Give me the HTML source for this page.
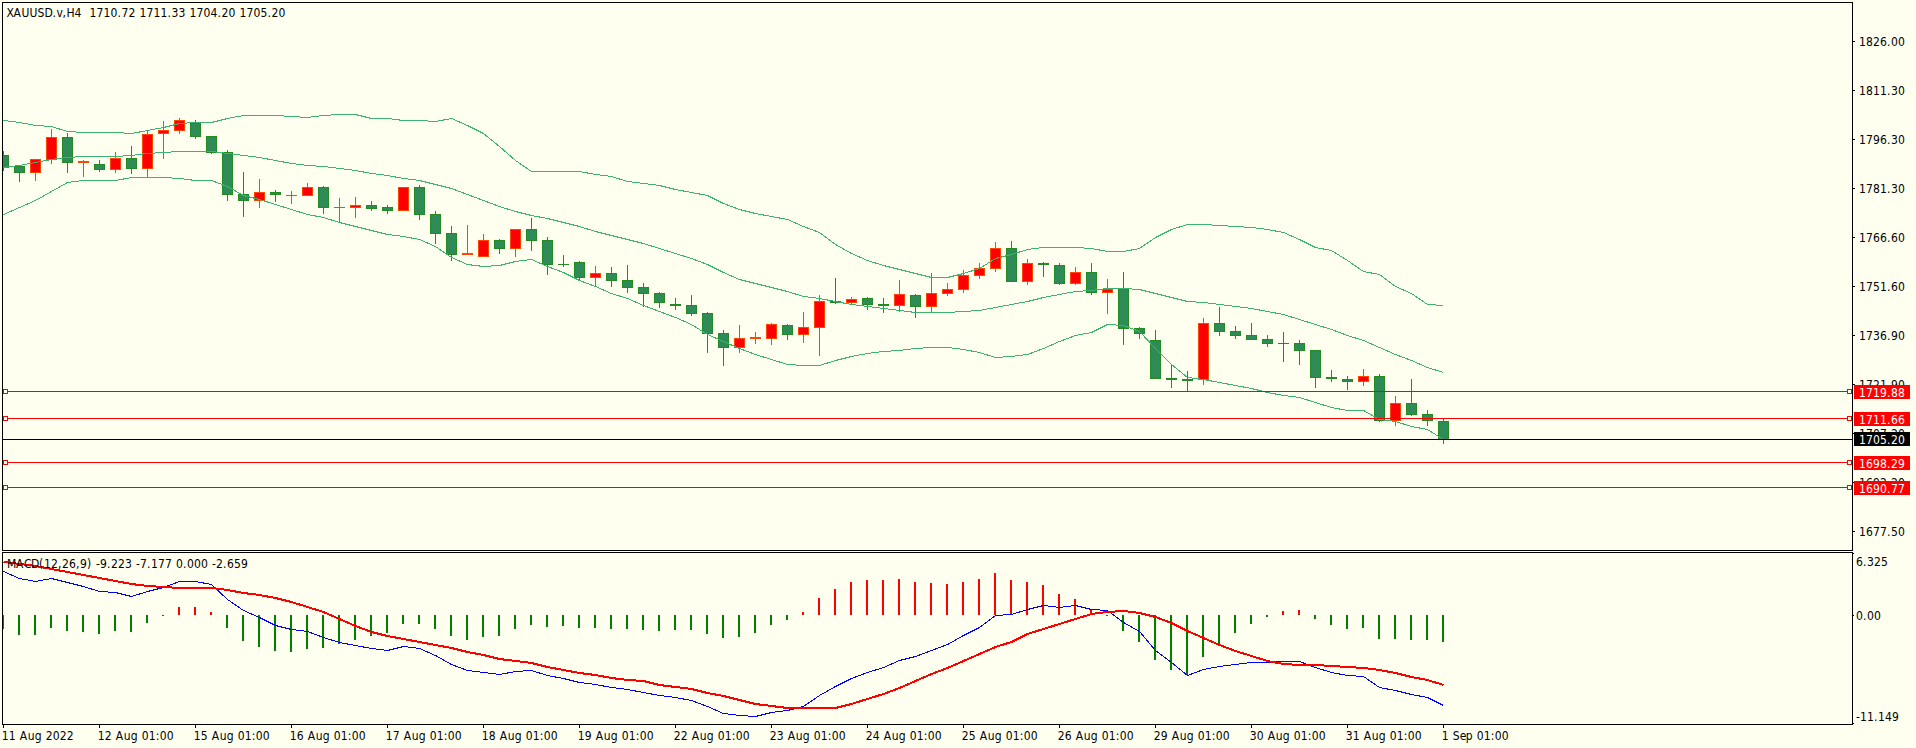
<!DOCTYPE html>
<html><head><meta charset="utf-8"><title>XAUUSD.v,H4</title>
<style>
html,body{margin:0;padding:0;background:#FFFFF0;overflow:hidden}
svg{display:block;position:absolute;left:0;top:0}
text{font-family:"DejaVu Sans Condensed","Liberation Sans",sans-serif;font-size:12px;white-space:pre}
</style></head><body>
<svg width="1916" height="748" viewBox="0 0 1916 748" shape-rendering="crispEdges">
<defs>
<clipPath id="cm"><rect x="3" y="3" width="1849" height="547"/></clipPath>
<clipPath id="cs"><rect x="3" y="553" width="1849" height="171"/></clipPath>
</defs>
<rect x="0" y="0" width="1916" height="748" fill="#FFFFF0"/>
<g clip-path="url(#cm)">
<rect x="3" y="151" width="1" height="20" fill="#228B22"/>
<rect x="-2" y="155" width="11" height="13" fill="#228B22"/>
<rect x="-1" y="156" width="9" height="11" fill="#2E8B57"/>
<rect x="19" y="166" width="1" height="16" fill="#228B22"/>
<rect x="14" y="166" width="11" height="7" fill="#228B22"/>
<rect x="15" y="167" width="9" height="5" fill="#2E8B57"/>
<rect x="35" y="159" width="1" height="22" fill="#FF4500"/>
<rect x="30" y="159" width="11" height="14" fill="#FF4500"/>
<rect x="31" y="160" width="9" height="12" fill="#FF0000"/>
<rect x="51" y="129" width="1" height="35" fill="#FF4500"/>
<rect x="46" y="137" width="11" height="23" fill="#FF4500"/>
<rect x="47" y="138" width="9" height="21" fill="#FF0000"/>
<rect x="67" y="133" width="1" height="40" fill="#228B22"/>
<rect x="62" y="137" width="11" height="26" fill="#228B22"/>
<rect x="63" y="138" width="9" height="24" fill="#2E8B57"/>
<rect x="83" y="160" width="1" height="17" fill="#FF4500"/>
<rect x="78" y="161" width="11" height="2" fill="#FF4500"/>
<rect x="99" y="160" width="1" height="12" fill="#228B22"/>
<rect x="94" y="164" width="11" height="6" fill="#228B22"/>
<rect x="95" y="165" width="9" height="4" fill="#2E8B57"/>
<rect x="115" y="152" width="1" height="21" fill="#FF4500"/>
<rect x="110" y="158" width="11" height="12" fill="#FF4500"/>
<rect x="111" y="159" width="9" height="10" fill="#FF0000"/>
<rect x="131" y="146" width="1" height="28" fill="#228B22"/>
<rect x="126" y="158" width="11" height="11" fill="#228B22"/>
<rect x="127" y="159" width="9" height="9" fill="#2E8B57"/>
<rect x="147" y="131" width="1" height="46" fill="#FF4500"/>
<rect x="142" y="134" width="11" height="35" fill="#FF4500"/>
<rect x="143" y="135" width="9" height="33" fill="#FF0000"/>
<rect x="163" y="121" width="1" height="38" fill="#FF4500"/>
<rect x="158" y="130" width="11" height="4" fill="#FF4500"/>
<rect x="159" y="131" width="9" height="2" fill="#FF0000"/>
<rect x="179" y="118" width="1" height="16" fill="#FF4500"/>
<rect x="174" y="120" width="11" height="11" fill="#FF4500"/>
<rect x="175" y="121" width="9" height="9" fill="#FF0000"/>
<rect x="195" y="120" width="1" height="19" fill="#228B22"/>
<rect x="190" y="123" width="11" height="14" fill="#228B22"/>
<rect x="191" y="124" width="9" height="12" fill="#2E8B57"/>
<rect x="211" y="136" width="1" height="18" fill="#228B22"/>
<rect x="206" y="136" width="11" height="17" fill="#228B22"/>
<rect x="207" y="137" width="9" height="15" fill="#2E8B57"/>
<rect x="227" y="150" width="1" height="51" fill="#228B22"/>
<rect x="222" y="152" width="11" height="43" fill="#228B22"/>
<rect x="223" y="153" width="9" height="41" fill="#2E8B57"/>
<rect x="243" y="172" width="1" height="45" fill="#228B22"/>
<rect x="238" y="194" width="11" height="7" fill="#228B22"/>
<rect x="239" y="195" width="9" height="5" fill="#2E8B57"/>
<rect x="259" y="179" width="1" height="29" fill="#FF4500"/>
<rect x="254" y="192" width="11" height="9" fill="#FF4500"/>
<rect x="255" y="193" width="9" height="7" fill="#FF0000"/>
<rect x="275" y="190" width="1" height="12" fill="#228B22"/>
<rect x="270" y="192" width="11" height="3" fill="#228B22"/>
<rect x="271" y="193" width="9" height="1" fill="#2E8B57"/>
<rect x="291" y="191" width="1" height="13" fill="#FF4500"/>
<rect x="286" y="195" width="11" height="1" fill="#FF4500"/>
<rect x="307" y="183" width="1" height="13" fill="#FF4500"/>
<rect x="302" y="187" width="11" height="9" fill="#FF4500"/>
<rect x="303" y="188" width="9" height="7" fill="#FF0000"/>
<rect x="323" y="186" width="1" height="28" fill="#228B22"/>
<rect x="318" y="187" width="11" height="21" fill="#228B22"/>
<rect x="319" y="188" width="9" height="19" fill="#2E8B57"/>
<rect x="339" y="198" width="1" height="24" fill="#FF4500"/>
<rect x="334" y="207" width="11" height="1" fill="#FF4500"/>
<rect x="355" y="197" width="1" height="21" fill="#FF4500"/>
<rect x="350" y="205" width="11" height="3" fill="#FF4500"/>
<rect x="351" y="206" width="9" height="1" fill="#FF0000"/>
<rect x="371" y="201" width="1" height="10" fill="#228B22"/>
<rect x="366" y="205" width="11" height="4" fill="#228B22"/>
<rect x="367" y="206" width="9" height="2" fill="#2E8B57"/>
<rect x="387" y="205" width="1" height="9" fill="#228B22"/>
<rect x="382" y="207" width="11" height="4" fill="#228B22"/>
<rect x="383" y="208" width="9" height="2" fill="#2E8B57"/>
<rect x="403" y="187" width="1" height="24" fill="#FF4500"/>
<rect x="398" y="187" width="11" height="24" fill="#FF4500"/>
<rect x="399" y="188" width="9" height="22" fill="#FF0000"/>
<rect x="419" y="185" width="1" height="35" fill="#228B22"/>
<rect x="414" y="187" width="11" height="28" fill="#228B22"/>
<rect x="415" y="188" width="9" height="26" fill="#2E8B57"/>
<rect x="435" y="211" width="1" height="33" fill="#228B22"/>
<rect x="430" y="214" width="11" height="20" fill="#228B22"/>
<rect x="431" y="215" width="9" height="18" fill="#2E8B57"/>
<rect x="451" y="226" width="1" height="35" fill="#228B22"/>
<rect x="446" y="233" width="11" height="22" fill="#228B22"/>
<rect x="447" y="234" width="9" height="20" fill="#2E8B57"/>
<rect x="467" y="225" width="1" height="30" fill="#FF4500"/>
<rect x="462" y="253" width="11" height="2" fill="#FF4500"/>
<rect x="483" y="234" width="1" height="23" fill="#FF4500"/>
<rect x="478" y="240" width="11" height="17" fill="#FF4500"/>
<rect x="479" y="241" width="9" height="15" fill="#FF0000"/>
<rect x="499" y="239" width="1" height="15" fill="#228B22"/>
<rect x="494" y="240" width="11" height="9" fill="#228B22"/>
<rect x="495" y="241" width="9" height="7" fill="#2E8B57"/>
<rect x="515" y="229" width="1" height="28" fill="#FF4500"/>
<rect x="510" y="229" width="11" height="20" fill="#FF4500"/>
<rect x="511" y="230" width="9" height="18" fill="#FF0000"/>
<rect x="531" y="218" width="1" height="33" fill="#228B22"/>
<rect x="526" y="229" width="11" height="12" fill="#228B22"/>
<rect x="527" y="230" width="9" height="10" fill="#2E8B57"/>
<rect x="547" y="237" width="1" height="38" fill="#228B22"/>
<rect x="542" y="240" width="11" height="25" fill="#228B22"/>
<rect x="543" y="241" width="9" height="23" fill="#2E8B57"/>
<rect x="563" y="255" width="1" height="12" fill="#228B22"/>
<rect x="558" y="264" width="11" height="1" fill="#228B22"/>
<rect x="579" y="261" width="1" height="20" fill="#228B22"/>
<rect x="574" y="262" width="11" height="16" fill="#228B22"/>
<rect x="575" y="263" width="9" height="14" fill="#2E8B57"/>
<rect x="595" y="266" width="1" height="20" fill="#FF4500"/>
<rect x="590" y="273" width="11" height="5" fill="#FF4500"/>
<rect x="591" y="274" width="9" height="3" fill="#FF0000"/>
<rect x="611" y="267" width="1" height="20" fill="#228B22"/>
<rect x="606" y="273" width="11" height="8" fill="#228B22"/>
<rect x="607" y="274" width="9" height="6" fill="#2E8B57"/>
<rect x="627" y="265" width="1" height="28" fill="#228B22"/>
<rect x="622" y="280" width="11" height="8" fill="#228B22"/>
<rect x="623" y="281" width="9" height="6" fill="#2E8B57"/>
<rect x="643" y="283" width="1" height="24" fill="#228B22"/>
<rect x="638" y="287" width="11" height="7" fill="#228B22"/>
<rect x="639" y="288" width="9" height="5" fill="#2E8B57"/>
<rect x="659" y="292" width="1" height="16" fill="#228B22"/>
<rect x="654" y="293" width="11" height="10" fill="#228B22"/>
<rect x="655" y="294" width="9" height="8" fill="#2E8B57"/>
<rect x="675" y="298" width="1" height="12" fill="#228B22"/>
<rect x="670" y="304" width="11" height="2" fill="#228B22"/>
<rect x="691" y="295" width="1" height="21" fill="#228B22"/>
<rect x="686" y="305" width="11" height="9" fill="#228B22"/>
<rect x="687" y="306" width="9" height="7" fill="#2E8B57"/>
<rect x="707" y="312" width="1" height="41" fill="#228B22"/>
<rect x="702" y="313" width="11" height="21" fill="#228B22"/>
<rect x="703" y="314" width="9" height="19" fill="#2E8B57"/>
<rect x="723" y="330" width="1" height="36" fill="#228B22"/>
<rect x="718" y="333" width="11" height="15" fill="#228B22"/>
<rect x="719" y="334" width="9" height="13" fill="#2E8B57"/>
<rect x="739" y="325" width="1" height="28" fill="#FF4500"/>
<rect x="734" y="338" width="11" height="10" fill="#FF4500"/>
<rect x="735" y="339" width="9" height="8" fill="#FF0000"/>
<rect x="755" y="332" width="1" height="12" fill="#FF4500"/>
<rect x="750" y="337" width="11" height="2" fill="#FF4500"/>
<rect x="771" y="323" width="1" height="22" fill="#FF4500"/>
<rect x="766" y="324" width="11" height="15" fill="#FF4500"/>
<rect x="767" y="325" width="9" height="13" fill="#FF0000"/>
<rect x="787" y="324" width="1" height="16" fill="#228B22"/>
<rect x="782" y="325" width="11" height="10" fill="#228B22"/>
<rect x="783" y="326" width="9" height="8" fill="#2E8B57"/>
<rect x="803" y="312" width="1" height="31" fill="#FF4500"/>
<rect x="798" y="327" width="11" height="8" fill="#FF4500"/>
<rect x="799" y="328" width="9" height="6" fill="#FF0000"/>
<rect x="819" y="295" width="1" height="61" fill="#FF4500"/>
<rect x="814" y="301" width="11" height="27" fill="#FF4500"/>
<rect x="815" y="302" width="9" height="25" fill="#FF0000"/>
<rect x="835" y="278" width="1" height="26" fill="#228B22"/>
<rect x="830" y="301" width="11" height="2" fill="#228B22"/>
<rect x="851" y="297" width="1" height="8" fill="#FF4500"/>
<rect x="846" y="299" width="11" height="4" fill="#FF4500"/>
<rect x="847" y="300" width="9" height="2" fill="#FF0000"/>
<rect x="867" y="297" width="1" height="13" fill="#228B22"/>
<rect x="862" y="298" width="11" height="7" fill="#228B22"/>
<rect x="863" y="299" width="9" height="5" fill="#2E8B57"/>
<rect x="883" y="298" width="1" height="15" fill="#228B22"/>
<rect x="878" y="304" width="11" height="2" fill="#228B22"/>
<rect x="899" y="280" width="1" height="32" fill="#FF4500"/>
<rect x="894" y="294" width="11" height="12" fill="#FF4500"/>
<rect x="895" y="295" width="9" height="10" fill="#FF0000"/>
<rect x="915" y="294" width="1" height="24" fill="#228B22"/>
<rect x="910" y="295" width="11" height="12" fill="#228B22"/>
<rect x="911" y="296" width="9" height="10" fill="#2E8B57"/>
<rect x="931" y="273" width="1" height="39" fill="#FF4500"/>
<rect x="926" y="293" width="11" height="14" fill="#FF4500"/>
<rect x="927" y="294" width="9" height="12" fill="#FF0000"/>
<rect x="947" y="283" width="1" height="13" fill="#FF4500"/>
<rect x="942" y="289" width="11" height="5" fill="#FF4500"/>
<rect x="943" y="290" width="9" height="3" fill="#FF0000"/>
<rect x="963" y="270" width="1" height="23" fill="#FF4500"/>
<rect x="958" y="275" width="11" height="15" fill="#FF4500"/>
<rect x="959" y="276" width="9" height="13" fill="#FF0000"/>
<rect x="979" y="263" width="1" height="16" fill="#FF4500"/>
<rect x="974" y="268" width="11" height="8" fill="#FF4500"/>
<rect x="975" y="269" width="9" height="6" fill="#FF0000"/>
<rect x="995" y="242" width="1" height="30" fill="#FF4500"/>
<rect x="990" y="248" width="11" height="21" fill="#FF4500"/>
<rect x="991" y="249" width="9" height="19" fill="#FF0000"/>
<rect x="1011" y="241" width="1" height="41" fill="#228B22"/>
<rect x="1006" y="248" width="11" height="34" fill="#228B22"/>
<rect x="1007" y="249" width="9" height="32" fill="#2E8B57"/>
<rect x="1027" y="259" width="1" height="26" fill="#FF4500"/>
<rect x="1022" y="263" width="11" height="19" fill="#FF4500"/>
<rect x="1023" y="264" width="9" height="17" fill="#FF0000"/>
<rect x="1043" y="262" width="1" height="15" fill="#228B22"/>
<rect x="1038" y="263" width="11" height="2" fill="#228B22"/>
<rect x="1059" y="263" width="1" height="22" fill="#228B22"/>
<rect x="1054" y="265" width="11" height="19" fill="#228B22"/>
<rect x="1055" y="266" width="9" height="17" fill="#2E8B57"/>
<rect x="1075" y="267" width="1" height="18" fill="#FF4500"/>
<rect x="1070" y="272" width="11" height="12" fill="#FF4500"/>
<rect x="1071" y="273" width="9" height="10" fill="#FF0000"/>
<rect x="1091" y="263" width="1" height="32" fill="#228B22"/>
<rect x="1086" y="272" width="11" height="21" fill="#228B22"/>
<rect x="1087" y="273" width="9" height="19" fill="#2E8B57"/>
<rect x="1107" y="279" width="1" height="35" fill="#FF4500"/>
<rect x="1102" y="289" width="11" height="4" fill="#FF4500"/>
<rect x="1103" y="290" width="9" height="2" fill="#FF0000"/>
<rect x="1123" y="272" width="1" height="73" fill="#228B22"/>
<rect x="1118" y="288" width="11" height="41" fill="#228B22"/>
<rect x="1119" y="289" width="9" height="39" fill="#2E8B57"/>
<rect x="1139" y="327" width="1" height="12" fill="#228B22"/>
<rect x="1134" y="328" width="11" height="6" fill="#228B22"/>
<rect x="1135" y="329" width="9" height="4" fill="#2E8B57"/>
<rect x="1155" y="330" width="1" height="49" fill="#228B22"/>
<rect x="1150" y="340" width="11" height="39" fill="#228B22"/>
<rect x="1151" y="341" width="9" height="37" fill="#2E8B57"/>
<rect x="1171" y="364" width="1" height="24" fill="#228B22"/>
<rect x="1166" y="378" width="11" height="2" fill="#228B22"/>
<rect x="1187" y="371" width="1" height="21" fill="#228B22"/>
<rect x="1182" y="379" width="11" height="2" fill="#228B22"/>
<rect x="1203" y="318" width="1" height="67" fill="#FF4500"/>
<rect x="1198" y="323" width="11" height="57" fill="#FF4500"/>
<rect x="1199" y="324" width="9" height="55" fill="#FF0000"/>
<rect x="1219" y="307" width="1" height="29" fill="#228B22"/>
<rect x="1214" y="323" width="11" height="9" fill="#228B22"/>
<rect x="1215" y="324" width="9" height="7" fill="#2E8B57"/>
<rect x="1235" y="326" width="1" height="13" fill="#228B22"/>
<rect x="1230" y="331" width="11" height="5" fill="#228B22"/>
<rect x="1231" y="332" width="9" height="3" fill="#2E8B57"/>
<rect x="1251" y="323" width="1" height="17" fill="#228B22"/>
<rect x="1246" y="335" width="11" height="5" fill="#228B22"/>
<rect x="1247" y="336" width="9" height="3" fill="#2E8B57"/>
<rect x="1267" y="335" width="1" height="12" fill="#228B22"/>
<rect x="1262" y="339" width="11" height="5" fill="#228B22"/>
<rect x="1263" y="340" width="9" height="3" fill="#2E8B57"/>
<rect x="1283" y="332" width="1" height="30" fill="#228B22"/>
<rect x="1278" y="343" width="11" height="1" fill="#228B22"/>
<rect x="1299" y="340" width="1" height="25" fill="#228B22"/>
<rect x="1294" y="343" width="11" height="8" fill="#228B22"/>
<rect x="1295" y="344" width="9" height="6" fill="#2E8B57"/>
<rect x="1315" y="350" width="1" height="38" fill="#228B22"/>
<rect x="1310" y="350" width="11" height="28" fill="#228B22"/>
<rect x="1311" y="351" width="9" height="26" fill="#2E8B57"/>
<rect x="1331" y="370" width="1" height="12" fill="#228B22"/>
<rect x="1326" y="377" width="11" height="2" fill="#228B22"/>
<rect x="1347" y="376" width="1" height="14" fill="#228B22"/>
<rect x="1342" y="379" width="11" height="3" fill="#228B22"/>
<rect x="1343" y="380" width="9" height="1" fill="#2E8B57"/>
<rect x="1363" y="369" width="1" height="17" fill="#FF4500"/>
<rect x="1358" y="376" width="11" height="6" fill="#FF4500"/>
<rect x="1359" y="377" width="9" height="4" fill="#FF0000"/>
<rect x="1379" y="374" width="1" height="48" fill="#228B22"/>
<rect x="1374" y="376" width="11" height="45" fill="#228B22"/>
<rect x="1375" y="377" width="9" height="43" fill="#2E8B57"/>
<rect x="1395" y="396" width="1" height="30" fill="#FF4500"/>
<rect x="1390" y="403" width="11" height="18" fill="#FF4500"/>
<rect x="1391" y="404" width="9" height="16" fill="#FF0000"/>
<rect x="1411" y="379" width="1" height="37" fill="#228B22"/>
<rect x="1406" y="403" width="11" height="12" fill="#228B22"/>
<rect x="1407" y="404" width="9" height="10" fill="#2E8B57"/>
<rect x="1427" y="410" width="1" height="16" fill="#228B22"/>
<rect x="1422" y="414" width="11" height="7" fill="#228B22"/>
<rect x="1423" y="415" width="9" height="5" fill="#2E8B57"/>
<rect x="1443" y="419" width="1" height="25" fill="#228B22"/>
<rect x="1438" y="421" width="11" height="19" fill="#228B22"/>
<rect x="1439" y="422" width="9" height="17" fill="#2E8B57"/>
<polyline points="3.5,120.5 19.5,122.5 35.5,125.5 51.5,126.5 67.5,131.5 83.5,132.5 99.5,132.5 115.5,132.5 131.5,133.5 147.5,130.5 163.5,127.5 179.5,123.5 195.5,122.5 211.5,122.5 227.5,118.5 243.5,115.5 259.5,115.5 275.5,115.5 291.5,116.5 307.5,117.5 323.5,115.5 339.5,114.5 355.5,114.5 371.5,118.5 387.5,118.5 403.5,120.5 419.5,120.5 435.5,121.5 451.5,118.5 467.5,125.5 483.5,133.5 499.5,146.5 515.5,160.5 531.5,171.5 547.5,171.5 563.5,171.5 579.5,171.5 595.5,174.5 611.5,176.5 627.5,181.5 643.5,183.5 659.5,185.5 675.5,189.5 691.5,192.5 707.5,195.5 723.5,203.5 739.5,209.5 755.5,213.5 771.5,216.5 787.5,219.5 803.5,226.5 819.5,232.5 835.5,244.5 851.5,253.5 867.5,260.5 883.5,265.5 899.5,269.5 915.5,273.5 931.5,277.5 947.5,277.5 963.5,273.5 979.5,268.5 995.5,258.5 1011.5,254.5 1027.5,249.5 1043.5,247.5 1059.5,247.5 1075.5,247.5 1091.5,248.5 1107.5,251.5 1123.5,251.5 1139.5,248.5 1155.5,237.5 1171.5,229.5 1187.5,224.5 1203.5,224.5 1219.5,225.5 1235.5,226.5 1251.5,227.5 1267.5,229.5 1283.5,232.5 1299.5,239.5 1315.5,247.5 1331.5,250.5 1347.5,260.5 1363.5,271.5 1379.5,274.5 1395.5,286.5 1411.5,293.5 1427.5,304.5 1443.5,305.5" fill="none" stroke="#3CB371" stroke-width="1"/>
<polyline points="3.5,167.5 19.5,165.5 35.5,162.5 51.5,159.5 67.5,157.5 83.5,156.5 99.5,156.5 115.5,156.5 131.5,155.5 147.5,153.5 163.5,152.5 179.5,151.5 195.5,151.5 211.5,151.5 227.5,153.5 243.5,155.5 259.5,157.5 275.5,160.5 291.5,163.5 307.5,165.5 323.5,166.5 339.5,168.5 355.5,170.5 371.5,173.5 387.5,175.5 403.5,178.5 419.5,180.5 435.5,184.5 451.5,188.5 467.5,194.5 483.5,200.5 499.5,206.5 515.5,211.5 531.5,215.5 547.5,218.5 563.5,222.5 579.5,226.5 595.5,231.5 611.5,235.5 627.5,239.5 643.5,243.5 659.5,248.5 675.5,253.5 691.5,258.5 707.5,264.5 723.5,272.5 739.5,279.5 755.5,283.5 771.5,287.5 787.5,291.5 803.5,296.5 819.5,298.5 835.5,301.5 851.5,304.5 867.5,306.5 883.5,308.5 899.5,310.5 915.5,312.5 931.5,312.5 947.5,312.5 963.5,311.5 979.5,310.5 995.5,307.5 1011.5,304.5 1027.5,301.5 1043.5,297.5 1059.5,294.5 1075.5,291.5 1091.5,290.5 1107.5,288.5 1123.5,288.5 1139.5,289.5 1155.5,293.5 1171.5,297.5 1187.5,301.5 1203.5,302.5 1219.5,304.5 1235.5,306.5 1251.5,308.5 1267.5,311.5 1283.5,314.5 1299.5,319.5 1315.5,324.5 1331.5,329.5 1347.5,335.5 1363.5,340.5 1379.5,347.5 1395.5,354.5 1411.5,360.5 1427.5,367.5 1443.5,372.5" fill="none" stroke="#3CB371" stroke-width="1"/>
<polyline points="3.5,214.5 19.5,207.5 35.5,200.5 51.5,191.5 67.5,182.5 83.5,180.5 99.5,180.5 115.5,180.5 131.5,177.5 147.5,177.5 163.5,177.5 179.5,178.5 195.5,180.5 211.5,180.5 227.5,186.5 243.5,195.5 259.5,199.5 275.5,204.5 291.5,209.5 307.5,214.5 323.5,217.5 339.5,222.5 355.5,226.5 371.5,230.5 387.5,234.5 403.5,236.5 419.5,239.5 435.5,246.5 451.5,257.5 467.5,264.5 483.5,266.5 499.5,265.5 515.5,261.5 531.5,259.5 547.5,266.5 563.5,272.5 579.5,280.5 595.5,286.5 611.5,293.5 627.5,298.5 643.5,305.5 659.5,311.5 675.5,317.5 691.5,324.5 707.5,334.5 723.5,341.5 739.5,348.5 755.5,354.5 771.5,359.5 787.5,364.5 803.5,365.5 819.5,365.5 835.5,360.5 851.5,356.5 867.5,353.5 883.5,351.5 899.5,350.5 915.5,348.5 931.5,347.5 947.5,347.5 963.5,349.5 979.5,352.5 995.5,357.5 1011.5,356.5 1027.5,354.5 1043.5,348.5 1059.5,341.5 1075.5,335.5 1091.5,332.5 1107.5,324.5 1123.5,325.5 1139.5,331.5 1155.5,348.5 1171.5,364.5 1187.5,377.5 1203.5,379.5 1219.5,382.5 1235.5,385.5 1251.5,388.5 1267.5,392.5 1283.5,395.5 1299.5,397.5 1315.5,402.5 1331.5,407.5 1347.5,410.5 1363.5,410.5 1379.5,419.5 1395.5,421.5 1411.5,426.5 1427.5,429.5 1443.5,439.5" fill="none" stroke="#3CB371" stroke-width="1"/>
</g>
<rect x="8" y="391" width="1839" height="1" fill="#FF0000"/>
<rect x="3" y="389" width="5" height="5" fill="#FF0000"/>
<rect x="4" y="390" width="3" height="3" fill="#FFFFF0"/>
<rect x="1847" y="389" width="5" height="5" fill="#FF0000"/>
<rect x="1848" y="390" width="3" height="3" fill="#FFFFF0"/>
<rect x="8" y="418" width="1839" height="1" fill="#FF0000"/>
<rect x="3" y="416" width="5" height="5" fill="#FF0000"/>
<rect x="4" y="417" width="3" height="3" fill="#FFFFF0"/>
<rect x="1847" y="416" width="5" height="5" fill="#FF0000"/>
<rect x="1848" y="417" width="3" height="3" fill="#FFFFF0"/>
<rect x="8" y="462" width="1839" height="1" fill="#FF0000"/>
<rect x="3" y="460" width="5" height="5" fill="#FF0000"/>
<rect x="4" y="461" width="3" height="3" fill="#FFFFF0"/>
<rect x="1847" y="460" width="5" height="5" fill="#FF0000"/>
<rect x="1848" y="461" width="3" height="3" fill="#FFFFF0"/>
<rect x="8" y="487" width="1839" height="1" fill="#FF0000"/>
<rect x="3" y="485" width="5" height="5" fill="#FF0000"/>
<rect x="4" y="486" width="3" height="3" fill="#FFFFF0"/>
<rect x="1847" y="485" width="5" height="5" fill="#FF0000"/>
<rect x="1848" y="486" width="3" height="3" fill="#FFFFF0"/>
<rect x="3" y="439" width="1849" height="1" fill="#000"/>
<g clip-path="url(#cs)">
<rect x="2" y="615" width="2" height="14" fill="#008000"/>
<rect x="18" y="615" width="2" height="20" fill="#008000"/>
<rect x="34" y="615" width="2" height="20" fill="#008000"/>
<rect x="50" y="615" width="2" height="13" fill="#008000"/>
<rect x="66" y="615" width="2" height="16" fill="#008000"/>
<rect x="82" y="615" width="2" height="17" fill="#008000"/>
<rect x="98" y="615" width="2" height="19" fill="#008000"/>
<rect x="114" y="615" width="2" height="16" fill="#008000"/>
<rect x="130" y="615" width="2" height="17" fill="#008000"/>
<rect x="146" y="615" width="2" height="8" fill="#008000"/>
<rect x="162" y="615" width="2" height="1" fill="#FF0000"/>
<rect x="178" y="607" width="2" height="8" fill="#FF0000"/>
<rect x="194" y="607" width="2" height="8" fill="#FF0000"/>
<rect x="210" y="612" width="2" height="3" fill="#FF0000"/>
<rect x="226" y="615" width="2" height="13" fill="#008000"/>
<rect x="242" y="615" width="2" height="26" fill="#008000"/>
<rect x="258" y="615" width="2" height="32" fill="#008000"/>
<rect x="274" y="615" width="2" height="36" fill="#008000"/>
<rect x="290" y="615" width="2" height="37" fill="#008000"/>
<rect x="306" y="615" width="2" height="34" fill="#008000"/>
<rect x="322" y="615" width="2" height="33" fill="#008000"/>
<rect x="338" y="615" width="2" height="29" fill="#008000"/>
<rect x="354" y="615" width="2" height="25" fill="#008000"/>
<rect x="370" y="615" width="2" height="21" fill="#008000"/>
<rect x="386" y="615" width="2" height="18" fill="#008000"/>
<rect x="402" y="615" width="2" height="9" fill="#008000"/>
<rect x="418" y="615" width="2" height="9" fill="#008000"/>
<rect x="434" y="615" width="2" height="14" fill="#008000"/>
<rect x="450" y="615" width="2" height="21" fill="#008000"/>
<rect x="466" y="615" width="2" height="25" fill="#008000"/>
<rect x="482" y="615" width="2" height="22" fill="#008000"/>
<rect x="498" y="615" width="2" height="21" fill="#008000"/>
<rect x="514" y="615" width="2" height="14" fill="#008000"/>
<rect x="530" y="615" width="2" height="10" fill="#008000"/>
<rect x="546" y="615" width="2" height="12" fill="#008000"/>
<rect x="562" y="615" width="2" height="11" fill="#008000"/>
<rect x="578" y="615" width="2" height="13" fill="#008000"/>
<rect x="594" y="615" width="2" height="13" fill="#008000"/>
<rect x="610" y="615" width="2" height="14" fill="#008000"/>
<rect x="626" y="615" width="2" height="14" fill="#008000"/>
<rect x="642" y="615" width="2" height="15" fill="#008000"/>
<rect x="658" y="615" width="2" height="16" fill="#008000"/>
<rect x="674" y="615" width="2" height="15" fill="#008000"/>
<rect x="690" y="615" width="2" height="15" fill="#008000"/>
<rect x="706" y="615" width="2" height="19" fill="#008000"/>
<rect x="722" y="615" width="2" height="23" fill="#008000"/>
<rect x="738" y="615" width="2" height="22" fill="#008000"/>
<rect x="754" y="615" width="2" height="18" fill="#008000"/>
<rect x="770" y="615" width="2" height="10" fill="#008000"/>
<rect x="786" y="615" width="2" height="5" fill="#008000"/>
<rect x="802" y="612" width="2" height="3" fill="#FF0000"/>
<rect x="818" y="598" width="2" height="17" fill="#FF0000"/>
<rect x="834" y="589" width="2" height="26" fill="#FF0000"/>
<rect x="850" y="582" width="2" height="33" fill="#FF0000"/>
<rect x="866" y="580" width="2" height="35" fill="#FF0000"/>
<rect x="882" y="580" width="2" height="35" fill="#FF0000"/>
<rect x="898" y="579" width="2" height="36" fill="#FF0000"/>
<rect x="914" y="582" width="2" height="33" fill="#FF0000"/>
<rect x="930" y="583" width="2" height="32" fill="#FF0000"/>
<rect x="946" y="584" width="2" height="31" fill="#FF0000"/>
<rect x="962" y="582" width="2" height="33" fill="#FF0000"/>
<rect x="978" y="579" width="2" height="36" fill="#FF0000"/>
<rect x="994" y="573" width="2" height="42" fill="#FF0000"/>
<rect x="1010" y="580" width="2" height="35" fill="#FF0000"/>
<rect x="1026" y="582" width="2" height="33" fill="#FF0000"/>
<rect x="1042" y="585" width="2" height="30" fill="#FF0000"/>
<rect x="1058" y="594" width="2" height="21" fill="#FF0000"/>
<rect x="1074" y="599" width="2" height="16" fill="#FF0000"/>
<rect x="1090" y="609" width="2" height="6" fill="#FF0000"/>
<rect x="1106" y="615" width="2" height="1" fill="#008000"/>
<rect x="1122" y="615" width="2" height="16" fill="#008000"/>
<rect x="1138" y="615" width="2" height="27" fill="#008000"/>
<rect x="1154" y="615" width="2" height="45" fill="#008000"/>
<rect x="1170" y="615" width="2" height="55" fill="#008000"/>
<rect x="1186" y="615" width="2" height="60" fill="#008000"/>
<rect x="1202" y="615" width="2" height="42" fill="#008000"/>
<rect x="1218" y="615" width="2" height="29" fill="#008000"/>
<rect x="1234" y="615" width="2" height="18" fill="#008000"/>
<rect x="1250" y="615" width="2" height="9" fill="#008000"/>
<rect x="1266" y="615" width="2" height="2" fill="#008000"/>
<rect x="1282" y="611" width="2" height="4" fill="#FF0000"/>
<rect x="1298" y="610" width="2" height="5" fill="#FF0000"/>
<rect x="1314" y="615" width="2" height="4" fill="#008000"/>
<rect x="1330" y="615" width="2" height="10" fill="#008000"/>
<rect x="1346" y="615" width="2" height="14" fill="#008000"/>
<rect x="1362" y="615" width="2" height="13" fill="#008000"/>
<rect x="1378" y="615" width="2" height="24" fill="#008000"/>
<rect x="1394" y="615" width="2" height="24" fill="#008000"/>
<rect x="1410" y="615" width="2" height="25" fill="#008000"/>
<rect x="1426" y="615" width="2" height="25" fill="#008000"/>
<rect x="1442" y="615" width="2" height="27" fill="#008000"/>
<polyline points="3.5,571.5 19.5,578.5 35.5,581.5 51.5,578.5 67.5,582.5 83.5,586.5 99.5,591.5 115.5,592.5 131.5,596.5 147.5,591.5 163.5,587.5 179.5,581.5 195.5,581.5 211.5,584.5 227.5,599.5 243.5,610.5 259.5,617.5 275.5,625.5 291.5,629.5 307.5,631.5 323.5,637.5 339.5,642.5 355.5,645.5 371.5,648.5 387.5,650.5 403.5,646.5 419.5,648.5 435.5,655.5 451.5,664.5 467.5,670.5 483.5,672.5 499.5,674.5 515.5,671.5 531.5,670.5 547.5,675.5 563.5,678.5 579.5,682.5 595.5,684.5 611.5,687.5 627.5,689.5 643.5,692.5 659.5,695.5 675.5,697.5 691.5,700.5 707.5,706.5 723.5,713.5 739.5,715.5 755.5,716.5 771.5,712.5 787.5,710.5 803.5,706.5 819.5,695.5 835.5,686.5 851.5,678.5 867.5,672.5 883.5,667.5 899.5,660.5 915.5,656.5 931.5,650.5 947.5,644.5 963.5,635.5 979.5,627.5 995.5,615.5 1011.5,614.5 1027.5,609.5 1043.5,605.5 1059.5,607.5 1075.5,605.5 1091.5,609.5 1107.5,610.5 1123.5,622.5 1139.5,631.5 1155.5,650.5 1171.5,662.5 1187.5,675.5 1203.5,669.5 1219.5,666.5 1235.5,664.5 1251.5,662.5 1267.5,662.5 1283.5,661.5 1299.5,661.5 1315.5,667.5 1331.5,672.5 1347.5,675.5 1363.5,676.5 1379.5,687.5 1395.5,690.5 1411.5,694.5 1427.5,697.5 1443.5,705.5" fill="none" stroke="#0000FF" stroke-width="1"/>
<polyline points="3.5,562.0 19.5,564.0 35.5,566.0 51.5,569.0 67.5,572.0 83.5,575.0 99.5,578.0 115.5,581.0 131.5,584.0 147.5,586.0 163.5,587.0 179.5,588.0 195.5,588.0 211.5,588.0 227.5,590.0 243.5,593.0 259.5,595.0 275.5,598.0 291.5,602.0 307.5,607.0 323.5,612.0 339.5,619.0 355.5,626.0 371.5,632.0 387.5,636.0 403.5,639.0 419.5,642.0 435.5,645.0 451.5,648.0 467.5,652.0 483.5,655.0 499.5,659.0 515.5,661.0 531.5,663.0 547.5,667.0 563.5,670.0 579.5,673.0 595.5,675.0 611.5,678.0 627.5,680.0 643.5,681.0 659.5,685.0 675.5,687.0 691.5,689.0 707.5,693.0 723.5,696.0 739.5,700.0 755.5,704.0 771.5,706.0 787.5,708.0 803.5,708.0 819.5,708.0 835.5,708.0 851.5,704.0 867.5,699.0 883.5,694.0 899.5,688.0 915.5,681.0 931.5,674.0 947.5,668.0 963.5,661.0 979.5,654.0 995.5,647.0 1011.5,642.0 1027.5,634.0 1043.5,629.0 1059.5,624.0 1075.5,619.0 1091.5,614.0 1107.5,612.0 1123.5,611.0 1139.5,613.0 1155.5,617.0 1171.5,623.0 1187.5,631.0 1203.5,638.0 1219.5,645.0 1235.5,651.0 1251.5,656.0 1267.5,661.0 1283.5,664.0 1299.5,665.0 1315.5,665.0 1331.5,666.0 1347.5,667.0 1363.5,668.0 1379.5,670.0 1395.5,673.0 1411.5,677.0 1427.5,680.0 1443.5,685.0" fill="none" stroke="#FF0000" stroke-width="2"/>
</g>
<rect x="2" y="2" width="1851" height="1" fill="#000"/>
<rect x="2" y="2" width="1" height="549" fill="#000"/>
<rect x="1852" y="2" width="1" height="549" fill="#000"/>
<rect x="2" y="550" width="1851" height="1" fill="#000"/>
<rect x="2" y="552" width="1851" height="1" fill="#000"/>
<rect x="2" y="552" width="1" height="173" fill="#000"/>
<rect x="1852" y="552" width="1" height="173" fill="#000"/>
<rect x="2" y="724" width="1851" height="1" fill="#000"/>
<rect x="1853" y="41" width="2" height="1" fill="#000"/>
<text x="1859 1866 1873 1880 1887 1891 1898" y="46" fill="#000">1826.00</text>
<rect x="1853" y="90" width="2" height="1" fill="#000"/>
<text x="1859 1866 1873 1880 1887 1891 1898" y="95" fill="#000">1811.30</text>
<rect x="1853" y="139" width="2" height="1" fill="#000"/>
<text x="1859 1866 1873 1880 1887 1891 1898" y="144" fill="#000">1796.30</text>
<rect x="1853" y="188" width="2" height="1" fill="#000"/>
<text x="1859 1866 1873 1880 1887 1891 1898" y="193" fill="#000">1781.30</text>
<rect x="1853" y="237" width="2" height="1" fill="#000"/>
<text x="1859 1866 1873 1880 1887 1891 1898" y="242" fill="#000">1766.60</text>
<rect x="1853" y="286" width="2" height="1" fill="#000"/>
<text x="1859 1866 1873 1880 1887 1891 1898" y="291" fill="#000">1751.60</text>
<rect x="1853" y="335" width="2" height="1" fill="#000"/>
<text x="1859 1866 1873 1880 1887 1891 1898" y="340" fill="#000">1736.90</text>
<rect x="1853" y="384" width="2" height="1" fill="#000"/>
<text x="1859 1866 1873 1880 1887 1891 1898" y="389" fill="#000">1721.90</text>
<rect x="1853" y="433" width="2" height="1" fill="#000"/>
<text x="1859 1866 1873 1880 1887 1891 1898" y="438" fill="#000">1707.20</text>
<rect x="1853" y="482" width="2" height="1" fill="#000"/>
<text x="1859 1866 1873 1880 1887 1891 1898" y="487" fill="#000">1692.20</text>
<rect x="1853" y="531" width="2" height="1" fill="#000"/>
<text x="1859 1866 1873 1880 1887 1891 1898" y="536" fill="#000">1677.50</text>
<rect x="1853" y="553" width="1" height="1" fill="#000"/>
<text x="1856 1863 1867 1874 1881" y="566" fill="#000">6.325</text>
<rect x="1853" y="615" width="1" height="1" fill="#000"/>
<text x="1856 1863 1867 1874" y="620" fill="#000">0.00</text>
<rect x="1853" y="723" width="1" height="1" fill="#000"/>
<text x="1856 1860 1867 1874 1878 1885 1892" y="721" fill="#000">-11.149</text>
<rect x="1854" y="385" width="56" height="14" fill="#FF0000"/>
<text x="1859 1866 1873 1880 1887 1891 1898" y="397" fill="#FFF">1719.88</text>
<rect x="1854" y="412" width="56" height="14" fill="#FF0000"/>
<text x="1859 1866 1873 1880 1887 1891 1898" y="424" fill="#FFF">1711.66</text>
<rect x="1854" y="456" width="56" height="14" fill="#FF0000"/>
<text x="1859 1866 1873 1880 1887 1891 1898" y="468" fill="#FFF">1698.29</text>
<rect x="1854" y="481" width="56" height="14" fill="#FF0000"/>
<text x="1859 1866 1873 1880 1887 1891 1898" y="493" fill="#FFF">1690.77</text>
<rect x="1854" y="432" width="56" height="14" fill="#000"/>
<text x="1859 1866 1873 1880 1887 1891 1898" y="444" fill="#FFF">1705.20</text>
<rect x="3" y="725" width="1" height="3" fill="#000"/>
<text x="1.7 8.7 15.7 19.7 27.7 34.7 41.7 45.7 52.7 59.7 66.7" y="739.5" fill="#000">11 Aug 2022</text>
<rect x="99" y="725" width="1" height="3" fill="#000"/>
<text x="97.7 104.7 111.7 115.7 123.7 130.7 137.7 141.7 148.7 155.7 159.7 166.7" y="739.5" fill="#000">12 Aug 01:00</text>
<rect x="195" y="725" width="1" height="3" fill="#000"/>
<text x="193.7 200.7 207.7 211.7 219.7 226.7 233.7 237.7 244.7 251.7 255.7 262.7" y="739.5" fill="#000">15 Aug 01:00</text>
<rect x="291" y="725" width="1" height="3" fill="#000"/>
<text x="289.7 296.7 303.7 307.7 315.7 322.7 329.7 333.7 340.7 347.7 351.7 358.7" y="739.5" fill="#000">16 Aug 01:00</text>
<rect x="387" y="725" width="1" height="3" fill="#000"/>
<text x="385.7 392.7 399.7 403.7 411.7 418.7 425.7 429.7 436.7 443.7 447.7 454.7" y="739.5" fill="#000">17 Aug 01:00</text>
<rect x="483" y="725" width="1" height="3" fill="#000"/>
<text x="481.7 488.7 495.7 499.7 507.7 514.7 521.7 525.7 532.7 539.7 543.7 550.7" y="739.5" fill="#000">18 Aug 01:00</text>
<rect x="579" y="725" width="1" height="3" fill="#000"/>
<text x="577.7 584.7 591.7 595.7 603.7 610.7 617.7 621.7 628.7 635.7 639.7 646.7" y="739.5" fill="#000">19 Aug 01:00</text>
<rect x="675" y="725" width="1" height="3" fill="#000"/>
<text x="673.7 680.7 687.7 691.7 699.7 706.7 713.7 717.7 724.7 731.7 735.7 742.7" y="739.5" fill="#000">22 Aug 01:00</text>
<rect x="771" y="725" width="1" height="3" fill="#000"/>
<text x="769.7 776.7 783.7 787.7 795.7 802.7 809.7 813.7 820.7 827.7 831.7 838.7" y="739.5" fill="#000">23 Aug 01:00</text>
<rect x="867" y="725" width="1" height="3" fill="#000"/>
<text x="865.7 872.7 879.7 883.7 891.7 898.7 905.7 909.7 916.7 923.7 927.7 934.7" y="739.5" fill="#000">24 Aug 01:00</text>
<rect x="963" y="725" width="1" height="3" fill="#000"/>
<text x="961.7 968.7 975.7 979.7 987.7 994.7 1001.7 1005.7 1012.7 1019.7 1023.7 1030.7" y="739.5" fill="#000">25 Aug 01:00</text>
<rect x="1059" y="725" width="1" height="3" fill="#000"/>
<text x="1057.7 1064.7 1071.7 1075.7 1083.7 1090.7 1097.7 1101.7 1108.7 1115.7 1119.7 1126.7" y="739.5" fill="#000">26 Aug 01:00</text>
<rect x="1155" y="725" width="1" height="3" fill="#000"/>
<text x="1153.7 1160.7 1167.7 1171.7 1179.7 1186.7 1193.7 1197.7 1204.7 1211.7 1215.7 1222.7" y="739.5" fill="#000">29 Aug 01:00</text>
<rect x="1251" y="725" width="1" height="3" fill="#000"/>
<text x="1249.7 1256.7 1263.7 1267.7 1275.7 1282.7 1289.7 1293.7 1300.7 1307.7 1311.7 1318.7" y="739.5" fill="#000">30 Aug 01:00</text>
<rect x="1347" y="725" width="1" height="3" fill="#000"/>
<text x="1345.7 1352.7 1359.7 1363.7 1371.7 1378.7 1385.7 1389.7 1396.7 1403.7 1407.7 1414.7" y="739.5" fill="#000">31 Aug 01:00</text>
<rect x="1443" y="725" width="1" height="3" fill="#000"/>
<text x="1441.7 1448.7 1452.7 1459.7 1465.7 1472.7 1476.7 1483.7 1490.7 1494.7 1501.7" y="739.5" fill="#000">1 Sep 01:00</text>
<text x="6.5 13.5 21.5 29.5 37.5 44.5 52.5 56.5 62.5 66.5 74.5 81.5 85.5 89.5 96.5 103.5 110.5 117.5 121.5 128.5 135.5 139.5 146.5 153.5 160.5 167.5 171.5 178.5 185.5 189.5 196.5 203.5 210.5 217.5 221.5 228.5 235.5 239.5 246.5 253.5 260.5 267.5 271.5 278.5" y="17" fill="#000" xml:space="preserve">XAUUSD.v,H4  1710.72 1711.33 1704.20 1705.20</text>
<text x="7 16 24 31 39 44 51 58 62 69 76 80 87 92 96 100 107 111 118 125 132 136 140 147 151 158 165 172 176 183 187 194 201 208 212 216 223 227 234 241" y="568" fill="#000">MACD(12,26,9) -9.223 -7.177 0.000 -2.659</text>
</svg>
</body></html>
